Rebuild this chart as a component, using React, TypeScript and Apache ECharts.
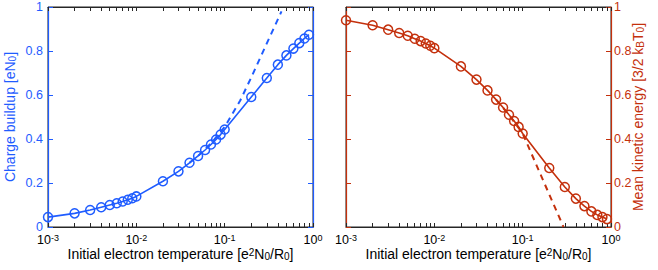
import React, { useEffect, useRef } from "react";
import * as echarts from "echarts";

const temperatures = [
  0.001, 0.002, 0.003, 0.004, 0.005, 0.006, 0.007, 0.008, 0.009,
  0.01, 0.02, 0.03, 0.04, 0.05, 0.06, 0.07, 0.08, 0.09,
  0.1, 0.2, 0.3, 0.4, 0.5, 0.6, 0.7, 0.8, 0.9,
];
const chargeBuildup = [
  0.045, 0.062, 0.077, 0.09, 0.1, 0.108, 0.116, 0.124, 0.131,
  0.139, 0.208, 0.253, 0.292, 0.323, 0.35, 0.375, 0.398, 0.42,
  0.443, 0.591, 0.677, 0.738, 0.78, 0.811, 0.836, 0.857, 0.874,
];
const chargeModelX = [0.04, 0.05, 0.07, 0.1, 0.15, 0.2, 0.3, 0.44];
const chargeModelY = [0.292, 0.323, 0.38, 0.455, 0.575, 0.68, 0.835, 0.98];

const kineticEnergy = [
  0.94, 0.917, 0.897, 0.882, 0.869, 0.856, 0.845, 0.834, 0.824,
  0.813, 0.73, 0.67, 0.621, 0.579, 0.543, 0.51, 0.482, 0.455,
  0.425, 0.268, 0.182, 0.129, 0.095, 0.071, 0.055, 0.045, 0.036,
];
const energyModelX = [0.05, 0.07, 0.1, 0.29];
const energyModelY = [0.579, 0.51, 0.425, 0];

const majorTicks = [0.001, 0.01, 0.1, 1];
const allTicks = [
  0.001, 0.002, 0.003, 0.004, 0.005, 0.006, 0.007, 0.008, 0.009,
  0.01, 0.02, 0.03, 0.04, 0.05, 0.06, 0.07, 0.08, 0.09,
  0.1, 0.2, 0.3, 0.4, 0.5, 0.6, 0.7, 0.8, 0.9, 1,
];

const BLUE = "#1f5cff";
const RED = "#c4300c";
const AXIS = "#262626";
const FONT = "Liberation Sans";

const xName = "{t|Initial electron temperature [e}{sup|2}{t|N}{sub|0}{t|/R}{sub|0}{t|]}";
const leftName = "{t|Charge buildup [eN}{sub|0}{t|]}";
const rightName = "{t|Mean kinetic energy [3/2 k}{sub|B}{t|T}{sub|0}{t|]}";

const nameRich = (color: string) => ({
  t: { fontSize: 14, lineHeight: 14, color, fontFamily: FONT, verticalAlign: "middle" },
  sub: { fontSize: 10, lineHeight: 5, color, fontFamily: FONT, verticalAlign: "bottom" },
  sup: { fontSize: 10, lineHeight: 5, color, fontFamily: FONT, verticalAlign: "top" },
});

function xAxesFor(gridIndex: number) {
  const base = {
    type: "log",
    logBase: 10,
    min: 0.001,
    max: 1,
    gridIndex,
    splitLine: { show: false },
    axisLine: { show: true, onZero: false, lineStyle: { color: AXIS, width: 1 } },
    axisTick: { show: true, inside: true, length: 4, customValues: allTicks, lineStyle: { color: AXIS } },
  };
  return [
    {
      ...base,
      position: "bottom",
      axisLabel: {
        show: true,
        customValues: majorTicks,
        margin: 6,
        formatter: (v: number) => `{b|10}{s|${Math.round(Math.log10(v))}}`,
        rich: {
          b: { fontSize: 12.5, lineHeight: 14, color: "#000", fontFamily: FONT, verticalAlign: "middle" },
          s: { fontSize: 9, lineHeight: 5, color: "#000", fontFamily: FONT, verticalAlign: "top" },
        },
      },
      name: xName,
      nameLocation: "middle",
      nameGap: 20,
      nameMoveOverlap: false,
      nameTextStyle: { rich: nameRich("#000") },
    },
    {
      ...base,
      position: "top",
      axisLabel: { show: false },
    },
  ];
}

function yAxis(gridIndex: number, position: string, color: string, labels: boolean, name?: string, nameGap?: number) {
  return {
    type: "value",
    gridIndex,
    position,
    min: 0,
    max: 1,
    interval: 0.2,
    splitLine: { show: false },
    axisLine: { show: true, onZero: false, lineStyle: { color, width: 1.2 } },
    axisTick: { show: true, inside: true, length: 5, lineStyle: { color } },
    axisLabel: {
      show: labels,
      color,
      fontSize: 12.5,
      lineHeight: 12,
      fontFamily: FONT,
      margin: position === "left" ? 5 : 3,
    },
    name: name || "",
    nameLocation: "middle",
    nameGap: nameGap || 0,
    nameMoveOverlap: false,
    nameRotate: 90,
    nameTextStyle: { rich: nameRich(color) },
  };
}

export default function App() {
  const ref = useRef<HTMLDivElement>(null);
  useEffect(() => {
    if (!ref.current) return;
    const chart = echarts.init(ref.current, undefined, { renderer: "svg" });
    const pairs = (xs: number[], ys: number[]) => xs.map((x, i) => [x, ys[i]]);
    const gridBase = {
      top: 7,
      width: 265,
      height: 220,
      show: true,
      borderColor: AXIS,
      borderWidth: 1,
      backgroundColor: "transparent",
      containLabel: false,
      outerBoundsMode: "none",
    };
    chart.setOption({
      animation: false,
      backgroundColor: "#fff",
      textStyle: { fontFamily: FONT },
      grid: [
        { ...gridBase, left: 48 },
        { ...gridBase, left: 346 },
      ],
      xAxis: [...xAxesFor(0), ...xAxesFor(1)],
      yAxis: [
        yAxis(0, "left", BLUE, true, leftName, 31),
        yAxis(0, "right", BLUE, false),
        yAxis(1, "left", RED, false),
        yAxis(1, "right", RED, true, rightName, 20),
      ],
      series: [
        {
          type: "line",
          xAxisIndex: 0,
          yAxisIndex: 0,
          data: pairs(chargeModelX, chargeModelY),
          symbol: "none",
          lineStyle: { color: BLUE, width: 2, type: [6, 5] },
          z: 2,
        },
        {
          type: "line",
          xAxisIndex: 0,
          yAxisIndex: 0,
          data: pairs(temperatures, chargeBuildup),
          symbol: "circle",
          symbolSize: 9,
          itemStyle: { color: "rgba(0,0,0,0)", borderColor: BLUE, borderWidth: 1.5 },
          lineStyle: { color: BLUE, width: 1.6 },
          z: 3,
        },
        {
          type: "line",
          xAxisIndex: 2,
          yAxisIndex: 2,
          data: pairs(energyModelX, energyModelY),
          symbol: "none",
          lineStyle: { color: RED, width: 2, type: [6, 5] },
          z: 2,
        },
        {
          type: "line",
          xAxisIndex: 2,
          yAxisIndex: 2,
          data: pairs(temperatures, kineticEnergy),
          symbol: "circle",
          symbolSize: 9,
          itemStyle: { color: "rgba(0,0,0,0)", borderColor: RED, borderWidth: 1.5 },
          lineStyle: { color: RED, width: 1.6 },
          z: 3,
        },
      ],
    });
    return () => chart.dispose();
  }, []);
  return (
    <div
      ref={ref}
      style={{ position: "fixed", left: 0, top: 0, width: 658, height: 270 }}
    />
  );
}
